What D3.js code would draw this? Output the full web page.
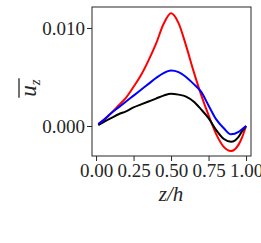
<!DOCTYPE html>
<html>
<head>
<meta charset="utf-8">
<script src="https://d3js.org/d3.v7.min.js"></script>
<style>
  body { margin: 0; background: #fff; }
  text { font-family: "Liberation Serif", serif; fill: #262626; }
</style>
</head>
<body>
<div id="chart"></div>
<script>
// data
var zVals = [0.015, 0.05, 0.1, 0.15, 0.2, 0.25, 0.3, 0.35, 0.4, 0.45, 0.5, 0.55, 0.6, 0.65, 0.7, 0.75, 0.8, 0.85, 0.9, 0.95, 0.975, 1.0];
var redVals = [0.0002, 0.0006, 0.0013, 0.0021, 0.0029, 0.0040, 0.0052, 0.0067, 0.0084, 0.0104, 0.0115, 0.0105, 0.0082, 0.0056, 0.0032, 0.0011, -0.0008, -0.0021, -0.00255, -0.0019, -0.0011, 0.0];
var blueVals = [0.0002, 0.0006, 0.0013, 0.0019, 0.0025, 0.0031, 0.0037, 0.0043, 0.0049, 0.0054, 0.00565, 0.0055, 0.0050, 0.0043, 0.0035, 0.0021, 0.0007, -0.0002, -0.00085, -0.0006, -0.0003, 0.0];
var blackVals = [0.0001, 0.0004, 0.0008, 0.0012, 0.0015, 0.0019, 0.0022, 0.0025, 0.0028, 0.0031, 0.0033, 0.0032, 0.0030, 0.0025, 0.0017, 0.0008, -0.0004, -0.0013, -0.0016, -0.0011, -0.0005, 0.0];
var xTicks = [0, 0.25, 0.5, 0.75, 1.0];
var yTicks = [0, 0.01];

var W = 261, H = 243;
var margin = { top: 7, right: 10, bottom: 87, left: 92 },
  width = W - margin.left - margin.right,
  height = H - margin.top - margin.bottom;

var svg = d3.select("#chart")
  .append("svg")
  .attr("width", W)
  .attr("height", H)
  .append("g")
  .attr("transform", "translate(" + margin.left + "," + margin.top + ")");

var x = d3.scaleLinear().domain([-0.027, 1.033]).range([0, width]);
var y = d3.scaleLinear().domain([-0.00306, 0.01214]).range([height, 0]);

// lines: red first, then black, blue on top
var series = [
  { vals: redVals, color: "#ff0000" },
  { vals: blackVals, color: "#000000" },
  { vals: blueVals, color: "#0000ff" }
];

var line = d3.line()
  .curve(d3.curveMonotoneX)
  .x(function (d) { return x(d[0]); })
  .y(function (d) { return y(d[1]); });

series.forEach(function (s) {
  svg.append("path")
    .datum(zVals.map(function (z, i) { return [z, s.vals[i]]; }))
    .attr("fill", "none")
    .attr("stroke", s.color)
    .attr("stroke-width", 2)
    .attr("d", line);
});

// axes
var xAxis = svg.append("g")
  .attr("transform", "translate(0," + height + ")")
  .call(d3.axisBottom(x).tickValues(xTicks).tickFormat(d3.format(".2f")).tickSize(5).tickPadding(3));
var yAxis = svg.append("g")
  .call(d3.axisLeft(y).tickValues(yTicks).tickFormat(d3.format(".3f")).tickSize(5).tickPadding(2));

[xAxis, yAxis].forEach(function (a) {
  a.select(".domain").remove();
  a.selectAll(".tick line").attr("stroke", "#262626").attr("stroke-width", 1);
  a.selectAll(".tick text").attr("fill", "#262626").style("font-size", "19px").style("font-family", "Liberation Serif, serif");
});

// frame
svg.append("rect")
  .attr("x", 0).attr("y", 0)
  .attr("width", width).attr("height", height)
  .attr("fill", "none")
  .attr("stroke", "#262626")
  .attr("stroke-width", 1);

// x label
svg.append("text")
  .attr("x", x(0.5))
  .attr("y", height + 45)
  .attr("text-anchor", "middle")
  .style("font-size", "21px")
  .style("font-style", "italic")
  .text("z/h");

// y label: overline u_z
var yl = svg.append("g")
  .attr("transform", "translate(-62," + (88 - margin.top) + ") rotate(-90)");
var ylt = yl.append("text")
  .attr("text-anchor", "middle")
  .attr("y", 6)
  .style("font-size", "23px")
  .style("font-style", "italic");
ylt.append("tspan").text("u");
ylt.append("tspan").attr("dy", 4).style("font-size", "15px").text("z");
var bb = ylt.node().getBBox();
yl.append("line")
  .attr("x1", bb.x - 1).attr("x2", bb.x + bb.width + 1)
  .attr("y1", -11).attr("y2", -11)
  .attr("stroke", "#262626")
  .attr("stroke-width", 1.3);
</script>
</body>
</html>
